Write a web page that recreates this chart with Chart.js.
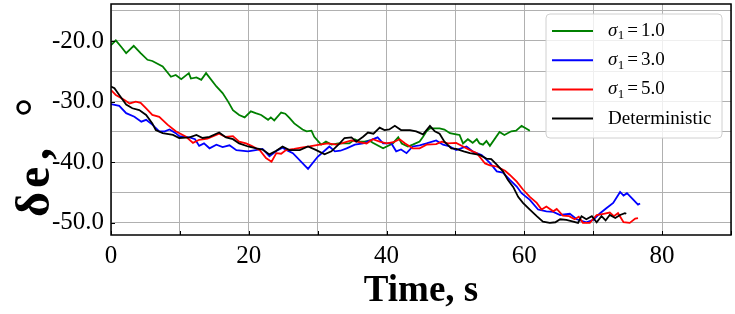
<!DOCTYPE html>
<html>
<head>
<meta charset="utf-8">
<script src="https://cdn.jsdelivr.net/npm/chart.js@4/dist/chart.umd.min.js"></script>
<style>
  html, body { margin: 0; padding: 0; background: #fff; }
  #wrap { width: 735px; height: 314px; }
</style>
</head>
<body>
<div id="wrap"><canvas id="c" width="735" height="314"></canvas></div>
<script>
// series: time (s) and elevator deflection (deg)
const s1Time = [0,0.7,1.5,2.2,3.3,4.3,5.3,6.0,7.5,8.7,9.4,10.2,11.3,11.6,12.4,13.1,13.8,15.3,16.2,17.0,17.7,18.6,19.4,20.3,21.0,21.8,22.8,23.2,23.7,24.7,25.3,25.9,26.6,27.8,28.4,29.1,29.5,30.5,31.2,32.0,33.0,34.6,35.4,36.1,36.8,37.5,38.0,39.5,40.9,41.7,42.2,43.1,43.8,44.8,45.3,45.8,46.3,47.7,48.4,49.2,50.1,50.6,51.1,51.8,52.5,53.1,53.5,54.0,54.5,55.0,56.4,57.1,58.1,58.8,59.6,60.2,60.8];
const s1Val = [-20.7,-19.9,-21.0,-22.0,-20.8,-22.0,-23.1,-23.3,-24.2,-25.9,-25.6,-26.3,-25.3,-26.2,-26.0,-26.4,-25.3,-27.5,-28.6,-30.0,-31.4,-32.2,-32.6,-31.6,-31.9,-32.2,-33.0,-32.6,-33.1,-31.8,-32.0,-32.7,-33.6,-34.6,-34.9,-34.8,-35.8,-37.1,-36.6,-37.1,-36.9,-36.9,-36.2,-36.6,-36.6,-36.4,-36.8,-37.7,-36.9,-35.9,-36.9,-37.4,-37.1,-36.6,-35.8,-34.9,-34.4,-34.4,-34.6,-35.2,-35.4,-35.5,-36.9,-36.2,-36.8,-36.2,-36.9,-37.1,-36.5,-37.3,-35.0,-35.5,-34.9,-34.8,-34.0,-34.4,-34.8];

const s3Time = [0,1.2,2.2,3.4,4.4,5.1,6.0,7.0,7.8,8.5,9.4,9.9,10.7,11.4,12.2,12.8,13.5,14.3,15.3,16.2,17.2,18.2,19.9,21.0,22.0,23.0,24.2,24.9,25.5,26.4,28.6,30.0,31.0,31.7,32.5,33.3,34.2,35.4,36.6,37.8,38.7,39.5,40.7,41.4,42.1,42.9,43.8,44.8,45.8,47.2,48.2,49.2,50.1,51.6,52.6,53.8,55.0,56.0,56.9,57.9,58.9,59.6,60.8,62.0,63.2,64.2,65.2,66.6,67.6,69.0,70.0,71.0,71.9,72.9,73.9,74.4,74.9,75.6,76.5,76.8];
const s3Val = [-30.4,-30.7,-31.9,-32.5,-33.3,-33.0,-33.8,-34.9,-34.9,-34.6,-35.2,-35.7,-35.8,-35.9,-36.2,-37.3,-36.9,-37.7,-37.1,-37.5,-37.2,-38.0,-38.2,-38.0,-37.8,-39.0,-38.0,-37.6,-38.0,-38.5,-41.1,-39.1,-38.1,-37.4,-38.2,-38.1,-37.7,-37.1,-36.9,-36.3,-35.9,-36.9,-36.9,-38.2,-37.9,-38.5,-37.4,-37.2,-36.9,-36.4,-37.1,-37.4,-38.0,-37.4,-38.3,-38.8,-40.1,-41.5,-41.7,-42.9,-44.0,-45.1,-46.2,-47.8,-48.1,-48.2,-48.7,-48.5,-49.4,-49.9,-49.5,-48.4,-47.6,-46.7,-44.9,-45.5,-45.1,-45.9,-47.0,-46.8];

const s5Time = [0,0.7,1.9,2.7,3.6,4.3,5.1,6.0,7.0,8.2,9.4,10.9,11.9,12.8,14.0,15.7,16.6,17.7,18.6,19.6,20.4,21.6,22.5,23.3,24.0,24.7,25.4,26.6,27.6,28.8,30.3,31.5,32.7,33.7,34.9,36.0,37.1,38.0,39.0,40.0,41.0,41.9,42.7,43.8,44.8,45.8,47.2,48.0,48.9,50.1,51.1,52.1,53.1,54.3,55.0,56.0,57.2,57.9,58.9,59.8,60.8,61.8,62.5,63.2,64.2,64.7,65.6,66.5,67.3,67.9,68.5,69.5,70.5,71.5,72.4,73.0,73.6,74.4,75.3,76.1,76.5];
const s5Val = [-28.1,-28.9,-29.7,-30.3,-30.0,-30.2,-31.1,-32.2,-32.5,-33.8,-34.9,-35.8,-36.8,-36.3,-36.1,-35.3,-35.8,-35.7,-36.6,-36.9,-37.3,-38.0,-39.3,-39.9,-38.5,-38.6,-38.0,-37.8,-37.6,-37.4,-37.1,-36.9,-37.1,-36.8,-36.4,-36.7,-36.9,-36.2,-36.6,-36.9,-36.7,-36.2,-36.9,-37.7,-37.7,-37.1,-37.0,-36.6,-36.9,-36.8,-37.4,-38.0,-38.5,-40.2,-40.5,-40.7,-41.4,-42.1,-43.2,-44.5,-45.7,-46.7,-47.8,-47.3,-48.1,-47.7,-48.8,-48.9,-49.4,-49.0,-50.0,-50.0,-48.7,-48.5,-48.3,-48.9,-48.4,-49.9,-50.0,-49.3,-49.2];

const detTime = [0,0.5,1.2,2.2,3.1,4.1,5.1,6.0,6.5,7.5,9.0,9.9,11.4,12.4,13.3,14.3,15.7,16.7,17.7,18.6,19.9,21.1,22.0,23.0,24.0,24.9,25.9,27.4,28.6,29.8,31.0,32.0,33.2,33.9,34.9,35.6,36.6,37.3,38.1,39.0,39.7,40.4,41.2,42.1,43.4,44.3,45.3,46.3,47.0,47.7,48.4,49.4,50.1,51.2,52.1,53.5,54.5,55.2,56.0,56.9,57.6,58.4,59.1,59.8,60.8,61.8,62.7,63.7,64.5,65.2,66.1,67.1,67.8,68.3,69.0,69.8,70.5,71.2,71.8,72.4,73.2,73.9,74.6,74.8];
const detVal = [-27.5,-27.8,-28.9,-30.5,-31.1,-31.4,-32.2,-33.6,-34.7,-35.2,-35.5,-36.0,-35.9,-35.5,-36.0,-35.8,-35.1,-35.9,-36.2,-36.9,-37.4,-37.7,-37.9,-38.7,-38.1,-37.4,-38.0,-38.0,-37.4,-38.0,-38.7,-38.2,-36.9,-36.0,-35.9,-36.6,-35.8,-35.1,-35.3,-34.3,-34.7,-34.6,-34.0,-34.7,-34.7,-34.9,-35.4,-34.0,-34.9,-35.3,-36.6,-37.7,-37.8,-38.2,-38.5,-38.8,-39.4,-39.5,-40.4,-41.5,-42.9,-44.1,-45.7,-46.7,-47.8,-48.9,-49.8,-50.0,-49.9,-49.4,-49.5,-49.8,-50.0,-48.9,-49.4,-48.9,-49.9,-48.9,-49.6,-48.7,-49.2,-48.7,-48.4,-48.5];

const seriesNames = ['1.0', '3.0', '5.0', 'Deterministic'];
const seriesColors = ['#008000', '#0000ff', '#ff0000', '#000000'];

const xTickValues = [0, 10, 20, 30, 40, 50, 60, 70, 80, 90];
const xTickLabels = ['0', '', '20', '', '40', '', '60', '', '80', ''];
const yTickValues = [-50, -45, -40, -35, -30, -25, -20, -15];
const yTickLabels = ['-50.0', '', '-40.0', '', '-30.0', '', '-20.0', ''];

const SERIF = '"Liberation Serif", "Times New Roman", serif';

function pts(ts, vs) {
    return ts.map((t, i) => ({ x: t, y: vs[i] }));
}

const sources = [[s1Time, s1Val], [s3Time, s3Val], [s5Time, s5Val], [detTime, detVal]];
const datasets = sources.map((s, i) => ({
    label: seriesNames[i],
    data: pts(s[0], s[1]),
    borderColor: seriesColors[i],
    borderWidth: 1.8,
    pointRadius: 0,
    tension: 0,
    fill: false,
    order: 4 - i
}));

// frame, inward ticks, axis titles and legend box
const decor = {
    id: 'decor',
    afterDraw(chart) {
        const { ctx, chartArea: a, scales } = chart;
        ctx.save();

        ctx.strokeStyle = '#000';
        ctx.lineWidth = 1;
        xTickValues.forEach(v => {
            const px = Math.round(scales.x.getPixelForValue(v)) + 0.5;
            ctx.beginPath();
            ctx.moveTo(px, a.bottom);
            ctx.lineTo(px, a.bottom - 4);
            ctx.stroke();
        });
        yTickValues.forEach((v, i) => {
            if (!yTickLabels[i]) return;
            const py = Math.round(scales.y.getPixelForValue(v)) + 0.5;
            ctx.beginPath();
            ctx.moveTo(a.left, py);
            ctx.lineTo(a.left + 4, py);
            ctx.stroke();
        });

        ctx.lineWidth = 1.5;
        ctx.strokeRect(a.left, a.top, a.right - a.left, a.bottom - a.top);

        // legend
        const lx = 546, ly = 14, lw = 176, lh = 124;
        ctx.beginPath();
        ctx.roundRect(lx, ly, lw, lh, 4);
        ctx.fillStyle = 'rgba(255,255,255,0.8)';
        ctx.fill();
        ctx.strokeStyle = '#d0d0d0';
        ctx.lineWidth = 1;
        ctx.stroke();

        ctx.textBaseline = 'middle';
        ctx.textAlign = 'left';
        seriesNames.forEach((name, i) => {
            const y = 31 + i * 29.2;
            ctx.strokeStyle = seriesColors[i];
            ctx.lineWidth = 2;
            ctx.beginPath();
            ctx.moveTo(552, y);
            ctx.lineTo(593, y);
            ctx.stroke();
            ctx.fillStyle = '#000';
            let x = 608;
            if (i < 3) {
                ctx.font = 'italic 19px ' + SERIF;
                ctx.fillText('σ', x, y);
                x += ctx.measureText('σ').width + 0.5;
                ctx.font = '13px ' + SERIF;
                ctx.fillText('1', x, y + 5);
                x += ctx.measureText('1').width + 3;
                ctx.font = '19px ' + SERIF;
                ctx.fillText('=', x, y);
                x += ctx.measureText('=').width + 3;
                ctx.fillText(name, x, y);
            } else {
                ctx.font = '19px ' + SERIF;
                ctx.fillText(name, x, y);
            }
        });

        // axis titles
        ctx.fillStyle = '#000';
        ctx.font = 'bold 37px ' + SERIF;
        ctx.textAlign = 'center';
        ctx.textBaseline = 'alphabetic';
        ctx.fillText('Time, s', (a.left + a.right) / 2, 301);

        // y title, glyphs spaced like the mathtext original
        ctx.font = 'bold 48px ' + SERIF;
        ctx.textAlign = 'left';
        ctx.translate(49, 0);
        ctx.rotate(-Math.PI / 2);
        ctx.fillText('δ', -217, 0);
        ctx.fillText('e', -188, 0);
        ctx.fillText(',', -160, 0);
        ctx.fillText('°', -117, 0);

        ctx.restore();
    }
};

new Chart(document.getElementById('c'), {
    type: 'line',
    data: { datasets: datasets },
    options: {
        responsive: false,
        animation: false,
        layout: { padding: { left: 0, right: 4, top: 4, bottom: 0 } },
        scales: {
            x: {
                type: 'linear',
                min: 0,
                max: 90,
                afterBuildTicks: s => { s.ticks = xTickValues.map(v => ({ value: v })); },
                afterFit: s => { s.height = 79; s.paddingLeft = 0; s.paddingRight = 0; },
                grid: { color: '#b0b0b0', lineWidth: 1, drawTicks: false },
                border: { display: false },
                ticks: {
                    autoSkip: false,
                    maxRotation: 0,
                    padding: 6,
                    color: '#000',
                    font: { family: SERIF, size: 25 },
                    callback: (v, i) => xTickLabels[i]
                }
            },
            y: {
                type: 'linear',
                min: -52,
                max: -13.9,
                afterBuildTicks: s => { s.ticks = yTickValues.map(v => ({ value: v })); },
                afterFit: s => { s.width = 111; s.paddingTop = 0; s.paddingBottom = 0; },
                grid: { color: '#b0b0b0', lineWidth: 1, drawTicks: false },
                border: { display: false },
                ticks: {
                    autoSkip: false,
                    padding: 7,
                    color: '#000',
                    font: { family: SERIF, size: 25 },
                    callback: (v, i) => yTickLabels[i]
                }
            }
        },
        plugins: {
            legend: { display: false },
            tooltip: { enabled: false }
        }
    },
    plugins: [decor]
});
</script>
</body>
</html>
